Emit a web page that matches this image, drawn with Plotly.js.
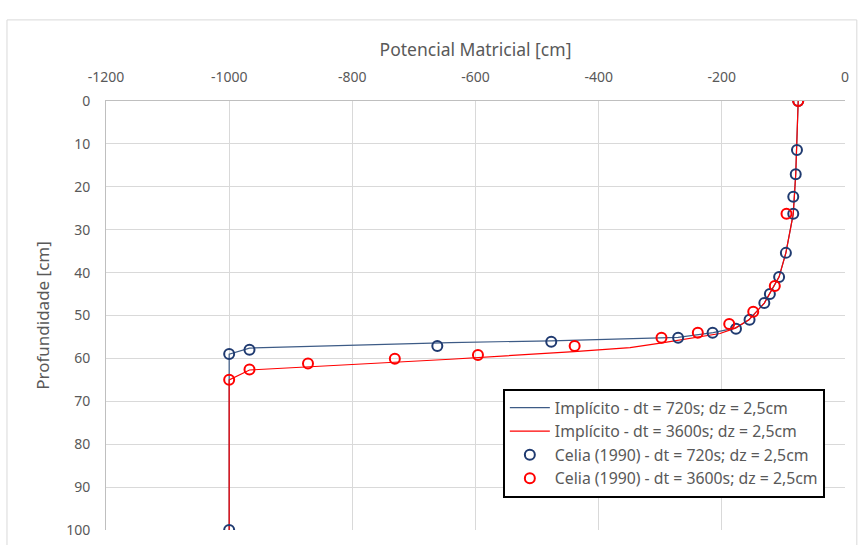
<!DOCTYPE html>
<html>
<head>
<meta charset="utf-8">
<script src="https://cdn.plot.ly/plotly-3.0.1.min.js"></script>
<style>
html,body{margin:0;padding:0;background:#fff;}
#chart{width:858px;height:545px;}
</style>
</head>
<body>
<div id="chart"></div>
<script>
// Implícito - dt = 720s (line)
const implicit720Psi   = [-76, -78, -80, -84, -96, -107, -122, -131, -156, -177, -214, -271, -477, -641, -967, -1000, -1000];
const implicit720Depth = [0, 11.4, 17, 26.3, 35.4, 41, 45, 47.1, 51, 52.9, 54, 55.1, 55.9, 56.3, 57.6, 59, 100];

// Implícito - dt = 3600s (line)
const implicit3600Psi   = [-76, -78, -80, -84, -96, -107, -122, -131, -156, -179, -203, -235, -268, -297, -349, -440, -641, -967, -1000, -1000];
const implicit3600Depth = [0, 11.4, 17, 26.3, 35.4, 41, 45, 47.1, 51, 53.0, 54.2, 55.0, 55.8, 56.4, 57.5, 58.4, 60.2, 62.7, 65, 100];

// Celia (1990) - dt = 720s (markers)
const celia720Psi   = [-76, -78, -80, -84, -84, -96, -107, -122, -131, -155, -177, -215, -271, -477, -662, -967, -1000, -1000];
const celia720Depth = [0, 11.4, 17.1, 22.3, 26.3, 35.4, 41, 45, 47.1, 51, 53.1, 54, 55.2, 56.1, 57.1, 58, 59, 100];

// Celia (1990) - dt = 3600s (markers)
const celia3600Psi   = [-76, -95, -114, -149, -188, -239, -298, -439, -596, -731, -872, -967, -1000];
const celia3600Depth = [0, 26.3, 43.1, 49.1, 52, 54, 55.2, 57.1, 59.2, 60.1, 61.2, 62.6, 65];

const xTicks = [-1200, -1000, -800, -600, -400, -200, 0];
const yTicks = [0, 10, 20, 30, 40, 50, 60, 70, 80, 90, 100];

const FONT = 'Noto Sans, Open Sans, sans-serif';
const TXT = '#595959';
const BLUE_LINE = '#3d5b86';
const BLUE_MK = '#1f3a70';
const RED = '#ff0000';

const traces = [
  {x: implicit720Psi, y: implicit720Depth, mode: 'lines', name: 'Implícito - dt = 720s; dz = 2,5cm',
   line: {color: BLUE_LINE, width: 1.2}, legendgroup: 'a'},
  {x: implicit3600Psi, y: implicit3600Depth, mode: 'lines', name: 'Implícito - dt = 3600s; dz = 2,5cm',
   line: {color: RED, width: 1.2}, legendgroup: 'b'},
  {x: celia720Psi, y: celia720Depth, mode: 'markers', name: 'Celia (1990) - dt = 720s; dz = 2,5cm',
   marker: {symbol: 'circle-open', size: 10, color: BLUE_MK, line: {width: 2, color: BLUE_MK}}, legendgroup: 'c'},
  {x: celia3600Psi, y: celia3600Depth, mode: 'markers', name: 'Celia (1990) - dt = 3600s; dz = 2,5cm',
   marker: {symbol: 'circle-open', size: 10, color: RED, line: {width: 2, color: RED}}, legendgroup: 'd'}
];

const layout = {
  width: 858, height: 545,
  margin: {l: 106, r: 13, t: 101, b: 15},
  paper_bgcolor: '#ffffff', plot_bgcolor: '#ffffff',
  font: {family: FONT, color: TXT, size: 14},
  showlegend: true,
  xaxis: {
    side: 'top', range: [-1200, 0], tickvals: xTicks, ticktext: xTicks.map(String),
    showgrid: true, gridcolor: '#d9d9d9', gridwidth: 1,
    showline: true, linecolor: '#bfbfbf', linewidth: 1,
    zeroline: false, ticks: '', ticklabelstandoff: 12,
    tickfont: {family: FONT, size: 14, color: TXT},
    title: {text: 'Potencial Matricial [cm]', font: {family: FONT, size: 17.5, color: TXT}, standoff: 6}
  },
  yaxis: {
    range: [100, 0], tickvals: yTicks, ticktext: yTicks.map(String),
    showgrid: true, gridcolor: '#d9d9d9', gridwidth: 1,
    showline: true, linecolor: '#bfbfbf', linewidth: 1,
    zeroline: false, ticks: '', ticklabelstandoff: 12,
    tickfont: {family: FONT, size: 14, color: TXT},
    title: {text: 'Profundidade [cm]', font: {family: FONT, size: 17, color: TXT}, standoff: 12}
  },
  legend: {
    x: 0.537, y: 0.329, xanchor: 'left', yanchor: 'top',
    bgcolor: '#ffffff', bordercolor: '#000000', borderwidth: 2,
    font: {family: FONT, size: 15.8, color: TXT},
    traceorder: 'grouped', tracegroupgap: 0, itemwidth: 40
  },
  shapes: [{
    type: 'rect', xref: 'paper', yref: 'paper', layer: 'below',
    x0: -0.134, x1: 1.016, y0: -0.2, y1: 1.189,
    line: {color: '#d9d9d9', width: 1}, fillcolor: 'rgba(0,0,0,0)'
  }]
};

Plotly.newPlot('chart', traces, layout, {displayModeBar: false, staticPlot: true});
</script>
</body>
</html>
